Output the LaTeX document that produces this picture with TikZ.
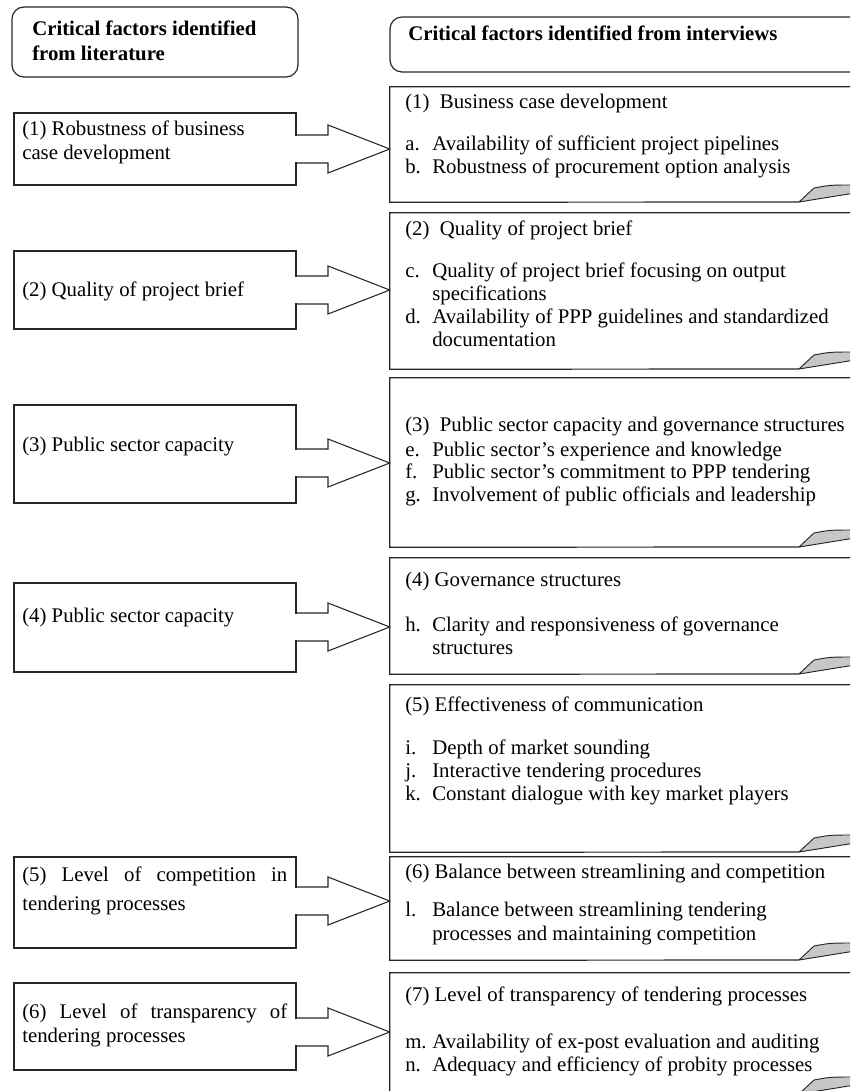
\documentclass[tikz,border=0pt]{standalone}
\usepackage{fontspec}
\setmainfont{Liberation Serif}
\usetikzlibrary{calc,fit}
\newcommand\bodyfont{\fontsize{15.6pt}{17pt}\selectfont}
\tikzset{
 boxline/.style={draw=black!85, line width=0.9pt},
 hdr/.style={draw=black!85, line width=0.9pt, rounded corners=9pt},
 foldst/.style={draw=black!85, line width=0.7pt, fill=black!22, line join=round},
 txt/.style={font=\bodyfont, inner sep=0pt, anchor=base west},
 htxt/.style={font=\bodyfont\bfseries, inner sep=0pt, anchor=base west},
 arrowline/.style={draw=black!85, line width=0.8pt, line join=miter},
}
\newcommand\rbox[3]{%
 \coordinate (#1nw) at (390,#2);
 \coordinate (#1se) at (880,#3);
 \node[fit=(#1nw)(#1se), inner sep=0pt] (#1) {};
 \draw[boxline] (#1.north east) -- (#1.north west) -- (#1.south west) -- (799,#3);
 \filldraw[foldst] (799,#3) -- (814,#3-14) .. controls (830,#3-17) .. (855,#3-17) -- (855,#3-9) -- cycle;}
\newcommand\lbox[3]{%
 \coordinate (#1nw) at (14,#2);
 \coordinate (#1se) at (296,#3);
 \node[fit=(#1nw)(#1se), inner sep=0pt, boxline] (#1) {};}
\newcommand\barrow[3]{%
 \fill[white] ($(#1.east |- 0,#3-13)+(-2,0)$) rectangle (327,#3+13);
 \draw[arrowline] (#1.east |- 0,#3-14) -- (328,#3-14) -- (328,#3-24) -- (#2.west |- 0,#3) -- (328,#3+24) -- (328,#3+14) -- (#1.east |- 0,#3+14);}
\newcommand\tline[4]{\node[txt] (#1) at (#2,#3) {#4};}
\newcommand\ritem[4]{\node[txt] (#1l) at (405,#2) {#3}; \node[txt] (#1) at (432,#2) {#4};}
\begin{document}
\begin{tikzpicture}[x=0.75pt,y=-0.75pt]
\clip (0,0) rectangle (850,1091);
% headers
\draw[hdr] (12,7) rectangle (298,77);
\node[htxt] (h1a) at (32,36) {Critical factors identified};
\node[htxt] (h1b) at (32,61) {from literature};
\draw[hdr] (390,17) rectangle (890,72);
\node[htxt] (h2a) at (408,41) {Critical factors identified from interviews};
% right boxes
\rbox{R1}{87}{202}
\tline{R1t}{405}{109}{(1)\ \ Business case development}
\ritem{R1a}{151}{a.}{Availability of sufficient project pipelines}
\ritem{R1b}{174}{b.}{Robustness of procurement option analysis}
\rbox{R2}{213}{369}
\tline{R2t}{405}{236}{(2)\ \ Quality of project brief}
\ritem{R2c}{277}{c.}{Quality of project brief focusing on output}
\tline{R2c2}{432}{300}{specifications}
\ritem{R2d}{323}{d.}{Availability of PPP guidelines and standardized}
\tline{R2d2}{432}{346}{documentation}
\rbox{R3}{378}{547}
\tline{R3t}{405}{431}{(3)\ \ Public sector capacity and governance structures}
\ritem{R3e}{456}{e.}{Public sector’s experience and knowledge}
\ritem{R3f}{478}{f.}{Public sector’s commitment to PPP tendering}
\ritem{R3g}{501}{g.}{Involvement of public officials and leadership}
\rbox{R4}{558}{674}
\tline{R4t}{405}{586}{(4) Governance structures}
\ritem{R4h}{631}{h.}{Clarity and responsiveness of governance}
\tline{R4h2}{432}{654}{structures}
\rbox{R5}{685}{852}
\tline{R5t}{405}{711}{(5) Effectiveness of communication}
\ritem{R5i}{754}{i.}{Depth of market sounding}
\ritem{R5j}{777}{j.}{Interactive tendering procedures}
\ritem{R5k}{800}{k.}{Constant dialogue with key market players}
\rbox{R6}{857}{960}
\tline{R6t}{405}{878}{(6) Balance between streamlining and competition}
\ritem{R6l}{916}{l.}{Balance between streamlining tendering}
\tline{R6l2}{432}{940}{processes and maintaining competition}
\rbox{R7}{973}{1094}
\tline{R7t}{405}{1001}{(7) Level of transparency of tendering processes}
\ritem{R7m}{1048}{m.}{Availability of ex-post evaluation and auditing}
\ritem{R7n}{1071}{n.}{Adequacy and efficiency of probity processes}
% left boxes
\lbox{L1}{113}{185}
\tline{L1a}{22}{136}{(1) Robustness of business}
\tline{L1b}{22}{160}{case development}
\lbox{L2}{251}{329}
\tline{L2a}{22}{296}{(2) Quality of project brief}
\lbox{L3}{405}{503}
\tline{L3a}{22}{451}{(3) Public sector capacity}
\lbox{L4}{583}{672}
\tline{L4a}{22}{622}{(4) Public sector capacity}
\lbox{L5}{857}{948}
\tline{L5a}{22}{881}{\makebox[198.75pt][s]{(5) Level of competition in}}
\tline{L5b}{22}{910}{tendering processes}
\lbox{L6}{983}{1070}
\tline{L6a}{22}{1018}{\makebox[198.75pt][s]{(6) Level of transparency of}}
\tline{L6b}{22}{1042}{tendering processes}
% arrows
\barrow{L1}{R1}{149}
\barrow{L2}{R2}{290}
\barrow{L3}{R3}{463}
\barrow{L4}{R4}{627}
\barrow{L5}{R6}{901}
\barrow{L6}{R7}{1032}
\end{tikzpicture}
\end{document}
